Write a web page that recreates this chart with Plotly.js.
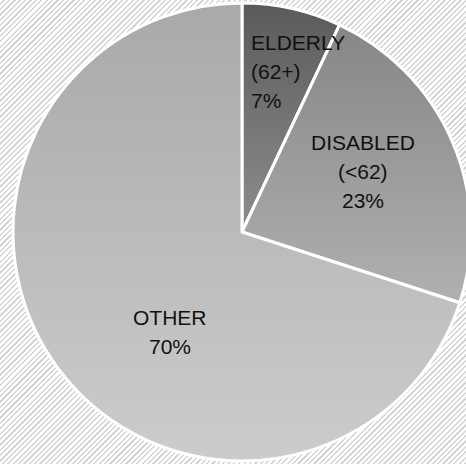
<!DOCTYPE html>
<html>
<head>
<meta charset="utf-8">
<script src="https://cdn.plot.ly/plotly-3.0.1.min.js"></script>
<style>
  html, body { margin: 0; padding: 0; width: 466px; height: 464px; overflow: hidden;
    background: repeating-linear-gradient(135deg, #ffffff 0px, #ffffff 2.2px, #d6d6d6 2.2px, #d6d6d6 3.8px); }
  #chart { width: 480px; height: 464px; }
</style>
</head>
<body>
<div id="chart"></div>
<script>
const categories = ["ELDERLY", "DISABLED", "OTHER"];
const subLabels = ["(62+)", "(<62)", ""];
const percents = [7, 23, 70];
const colors = ["#707070", "#9b9b9b", "#bcbcbc"];
const gradTop = ["#5a5a5a", "#868686", "#a9a9a9"];
const gradBottom = ["#8e8e8e", "#b0b0b0", "#cccccc"];

const W = 480, H = 464;
const cx = 242, cy = 232, R = 229;

const trace = {
  type: "pie",
  labels: categories,
  values: percents,
  sort: false,
  direction: "clockwise",
  rotation: 0,
  textinfo: "none",
  hoverinfo: "none",
  marker: { colors: colors, line: { color: "#ffffff", width: 3 } },
  domain: { x: [(cx - R) / W, (cx + R) / W], y: [(H - cy - R) / H, (H - cy + R) / H] },
  showlegend: false
};

const labelPos = [
  { x: 249, y: 43, anchor: "left", gap: 29 },
  { x: 363, y: 142, anchor: "center", gap: 29 },
  { x: 170, y: 317, anchor: "center", gap: 29 }
];

const annotations = [];
categories.forEach((c, i) => {
  const lines = [c];
  if (subLabels[i]) lines.push(subLabels[i]);
  lines.push(percents[i] + "%");
  const p = labelPos[i];
  lines.forEach((t, k) => {
    annotations.push({
      xref: "paper", yref: "paper",
      x: p.x / W, y: 1 - (p.y + k * p.gap) / H,
      xanchor: p.anchor, yanchor: "middle",
      text: t, showarrow: false,
      font: { family: "Liberation Sans, Arial, sans-serif", size: 21, color: "#111111" }
    });
  });
});

const layout = {
  width: W, height: H,
  margin: { l: 0, r: 0, t: 0, b: 0, pad: 0 },
  paper_bgcolor: "rgba(0,0,0,0)",
  plot_bgcolor: "rgba(0,0,0,0)",
  annotations: annotations
};

Plotly.newPlot("chart", [trace], layout, { displayModeBar: false, staticPlot: true }).then(gd => {
  const svg = gd.querySelector("svg.main-svg");
  const ns = "http://www.w3.org/2000/svg";
  let defs = svg.querySelector("defs");
  if (!defs) { defs = document.createElementNS(ns, "defs"); svg.insertBefore(defs, svg.firstChild); }
  const paths = gd.querySelectorAll("g.slice path.surface");
  paths.forEach((p, i) => {
    const g = document.createElementNS(ns, "linearGradient");
    g.setAttribute("id", "sliceGrad" + i);
    g.setAttribute("x1", "0"); g.setAttribute("y1", "0");
    g.setAttribute("x2", "0"); g.setAttribute("y2", "1");
    [[0, gradTop[i]], [1, gradBottom[i]]].forEach(([o, c]) => {
      const s = document.createElementNS(ns, "stop");
      s.setAttribute("offset", o);
      s.setAttribute("stop-color", c);
      g.appendChild(s);
    });
    defs.appendChild(g);
    p.style.fill = "url(#sliceGrad" + i + ")";
  });
});
</script>
</body>
</html>
